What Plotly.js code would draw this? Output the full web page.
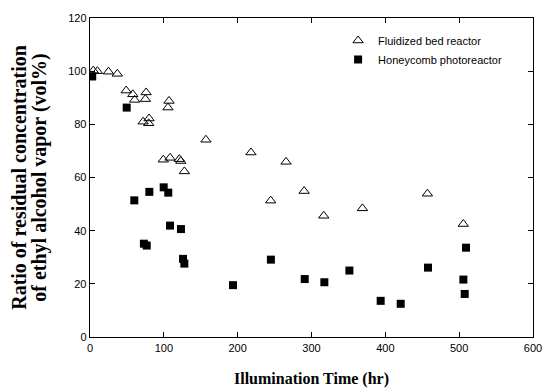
<!DOCTYPE html>
<html>
<head>
<meta charset="utf-8">
<script src="https://cdn.plot.ly/plotly-3.0.1.min.js"></script>
<style>html,body{margin:0;padding:0;background:#fff;}#chart{width:543px;height:390px;}</style>
</head>
<body>
<div id="chart"></div>
<script>
// Fluidized bed reactor (open triangles)
const fluidTime = [4.5, 10, 25, 37, 49, 58, 60.5, 76, 75, 72, 80, 79.5, 107, 105.6, 157, 99.3, 108.4, 121, 123, 127.8, 218, 265.5, 290, 244.7, 316.6, 369, 457, 505.6];
const fluidRatio = [100.2, 100, 99.8, 99, 92.7, 91.3, 89.2, 92, 89.5, 81, 82.2, 80.4, 88.8, 86.3, 74.2, 66.7, 67.4, 66.9, 66.2, 62.3, 69.4, 65.9, 54.9, 51.3, 45.6, 48.4, 53.9, 42.5];
// Honeycomb photoreactor (filled squares)
const honeyTime = [3, 49.7, 60, 80.4, 99.8, 106, 108.4, 123.2, 73, 76.8, 126, 127.8, 193.7, 245, 290.8, 317.4, 351.3, 393.7, 420.8, 457.8, 505.7, 507.5, 509.3];
const honeyRatio = [98, 86.3, 51.4, 54.6, 56.3, 54.3, 41.9, 40.6, 35.1, 34.4, 29.4, 27.6, 19.5, 29.1, 21.8, 20.6, 25, 13.6, 12.5, 26.1, 21.6, 16.2, 33.6];

const seriesNames = ['Fluidized bed reactor', 'Honeycomb photoreactor'];
const xTickVals = [0, 100, 200, 300, 400, 500, 600];
const yTickVals = [0, 20, 40, 60, 80, 100, 120];

const traces = [
  {x: fluidTime, y: fluidRatio, name: seriesNames[0], mode: 'markers', type: 'scatter',
   marker: {symbol: 'triangle-up-open', size: 9, color: '#000', line: {color: '#000', width: 1}}},
  {x: honeyTime, y: honeyRatio, name: seriesNames[1], mode: 'markers', type: 'scatter',
   marker: {symbol: 'square', size: 8, color: '#000', line: {width: 0}}}
];

const axisCommon = {
  showgrid: false, zeroline: false, showline: true, linecolor: '#000', linewidth: 1.3,
  ticks: 'inside', ticklen: 5, tickwidth: 1, tickcolor: '#000', mirror: 'ticks',
  tickfont: {family: 'Liberation Sans, Arial, sans-serif', size: 11, color: '#000'}
};

const layout = {
  width: 543, height: 390,
  margin: {l: 90, r: 10, t: 18, b: 52.5},
  paper_bgcolor: '#fff', plot_bgcolor: '#fff',
  showlegend: true,
  legend: {x: 0.56, y: 0.975, xanchor: 'left', yanchor: 'top', bgcolor: 'rgba(0,0,0,0)',
           font: {family: 'Liberation Sans, Arial, sans-serif', size: 11, color: '#000'}, tracegroupgap: 0},
  xaxis: Object.assign({}, axisCommon, {range: [0, 600], tickvals: xTickVals,
    title: {text: '<b>Illumination Time (hr)</b>', standoff: 20,
      font: {family: 'Liberation Serif, Times New Roman, serif', size: 16, color: '#000'}}}),
  yaxis: Object.assign({}, axisCommon, {range: [0, 120], tickvals: yTickVals,
    title: {text: '<span style="font-size:20px"><b>Ratio of residual concentration</b></span><br><span style="font-size:20px"><b>of ethyl alcohol vapor (vol%)</b></span>', standoff: 18,
      font: {family: 'Liberation Serif, Times New Roman, serif', size: 15, color: '#000'}}})
};

Plotly.newPlot('chart', traces, layout, {displayModeBar: false, staticPlot: true});
</script>
</body>
</html>
